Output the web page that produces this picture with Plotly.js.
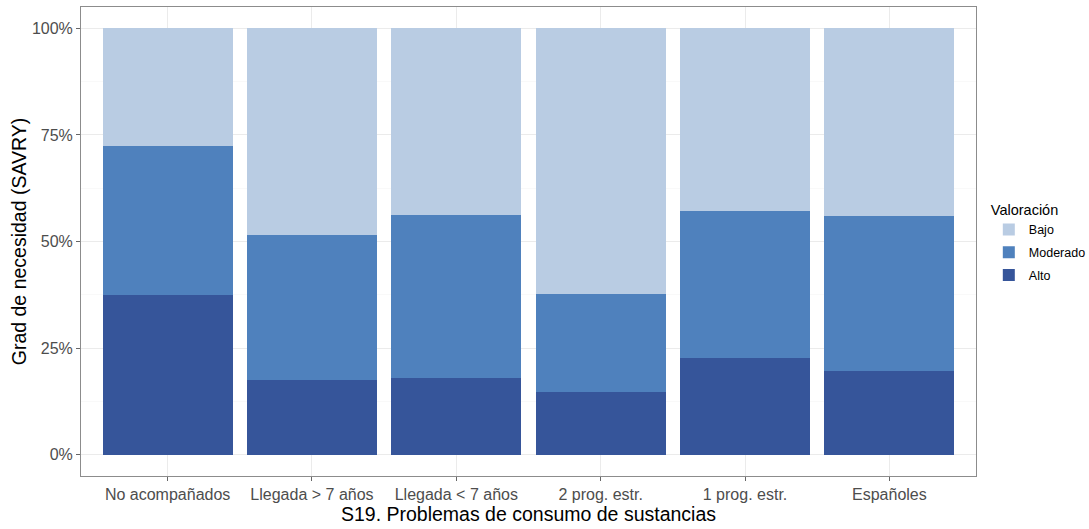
<!DOCTYPE html>
<html>
<head>
<meta charset="utf-8">
<script src="https://cdn.plot.ly/plotly-3.0.1.min.js"></script>
<style>html,body{margin:0;padding:0;background:#fff;}#chart{width:1089px;height:529px;}</style>
</head>
<body>
<div id="chart"></div>
<script>
const categories = ["No acompañados", "Llegada > 7 años", "Llegada < 7 años", "2 prog. estr.", "1 prog. estr.", "Españoles"];
const alto = [37.5, 17.4, 18.1, 14.7, 22.7, 19.6];
const moderado = [35.0, 34.2, 38.0, 22.9, 34.4, 36.4];
const bajo = [27.5, 48.4, 43.9, 62.4, 42.9, 44.0];
const seriesNames = ["Alto", "Moderado", "Bajo"];
const yTickVals = [0, 25, 50, 75, 100];
const yTickText = ["0%", "25%", "50%", "75%", "100%"];

const FONT = "Liberation Sans, Arial, Helvetica, sans-serif";

const traces = [
  {name: seriesNames[0], y: alto, color: "#36559A", rank: 3},
  {name: seriesNames[1], y: moderado, color: "#4F81BD", rank: 2},
  {name: seriesNames[2], y: bajo, color: "#B9CCE3", rank: 1}
].map(s => ({
  type: "bar",
  x: categories,
  y: s.y,
  name: s.name,
  legendgroup: s.name,
  legendrank: s.rank,
  marker: {color: s.color, line: {width: 0}},
  hoverinfo: "x+y+name"
}));

const layout = {
  width: 1089,
  height: 529,
  paper_bgcolor: "#fff",
  plot_bgcolor: "#fff",
  barmode: "stack",
  bargap: 0.1,
  margin: {l: 81, r: 113, t: 7, b: 53},
  font: {family: FONT, color: "#000"},
  showlegend: true,
  legend: {
    xref: "container", yref: "container",
    x: 0.908, xanchor: "left",
    y: 0.6295, yanchor: "top",
    traceorder: "grouped",
    title: {text: "Valoración", font: {size: 14.5, color: "#000", family: FONT}},
    font: {size: 12.5, color: "#000", family: FONT},
    bgcolor: "rgba(0,0,0,0)",
    tracegroupgap: 3.5
  },
  xaxis: {
    type: "category",
    range: [-0.6, 5.6],
    showgrid: true,
    gridcolor: "#EBEBEB",
    gridwidth: 1,
    showline: true,
    linecolor: "#8C8C8C",
    linewidth: 1,
    mirror: true,
    ticks: "outside",
    ticklen: 4,
    tickcolor: "#666",
    tickfont: {size: 16, color: "#4D4D4D", family: FONT},
    title: {text: "S19. Problemas de consumo de sustancias", font: {size: 19.5, color: "#000", family: FONT}, standoff: 2},
    zeroline: false,
    fixedrange: true
  },
  yaxis: {
    range: [-5, 105],
    tickvals: yTickVals,
    ticktext: yTickText,
    showgrid: true,
    gridcolor: "#EBEBEB",
    gridwidth: 1,
    minor: {tickvals: [12.5, 37.5, 62.5, 87.5], showgrid: true, gridcolor: "#F5F5F5", gridwidth: 0.6, ticks: ""},
    showline: true,
    linecolor: "#8C8C8C",
    linewidth: 1,
    mirror: true,
    ticks: "outside",
    ticklen: 4,
    tickcolor: "#666",
    tickfont: {size: 16, color: "#4D4D4D", family: FONT},
    title: {text: "Grad de necesidad (SAVRY)", font: {size: 19.5, color: "#000", family: FONT}, standoff: 0},
    zeroline: false,
    fixedrange: true
  }
};

Plotly.newPlot("chart", traces, layout, {displayModeBar: false, staticPlot: true});
</script>
</body>
</html>
